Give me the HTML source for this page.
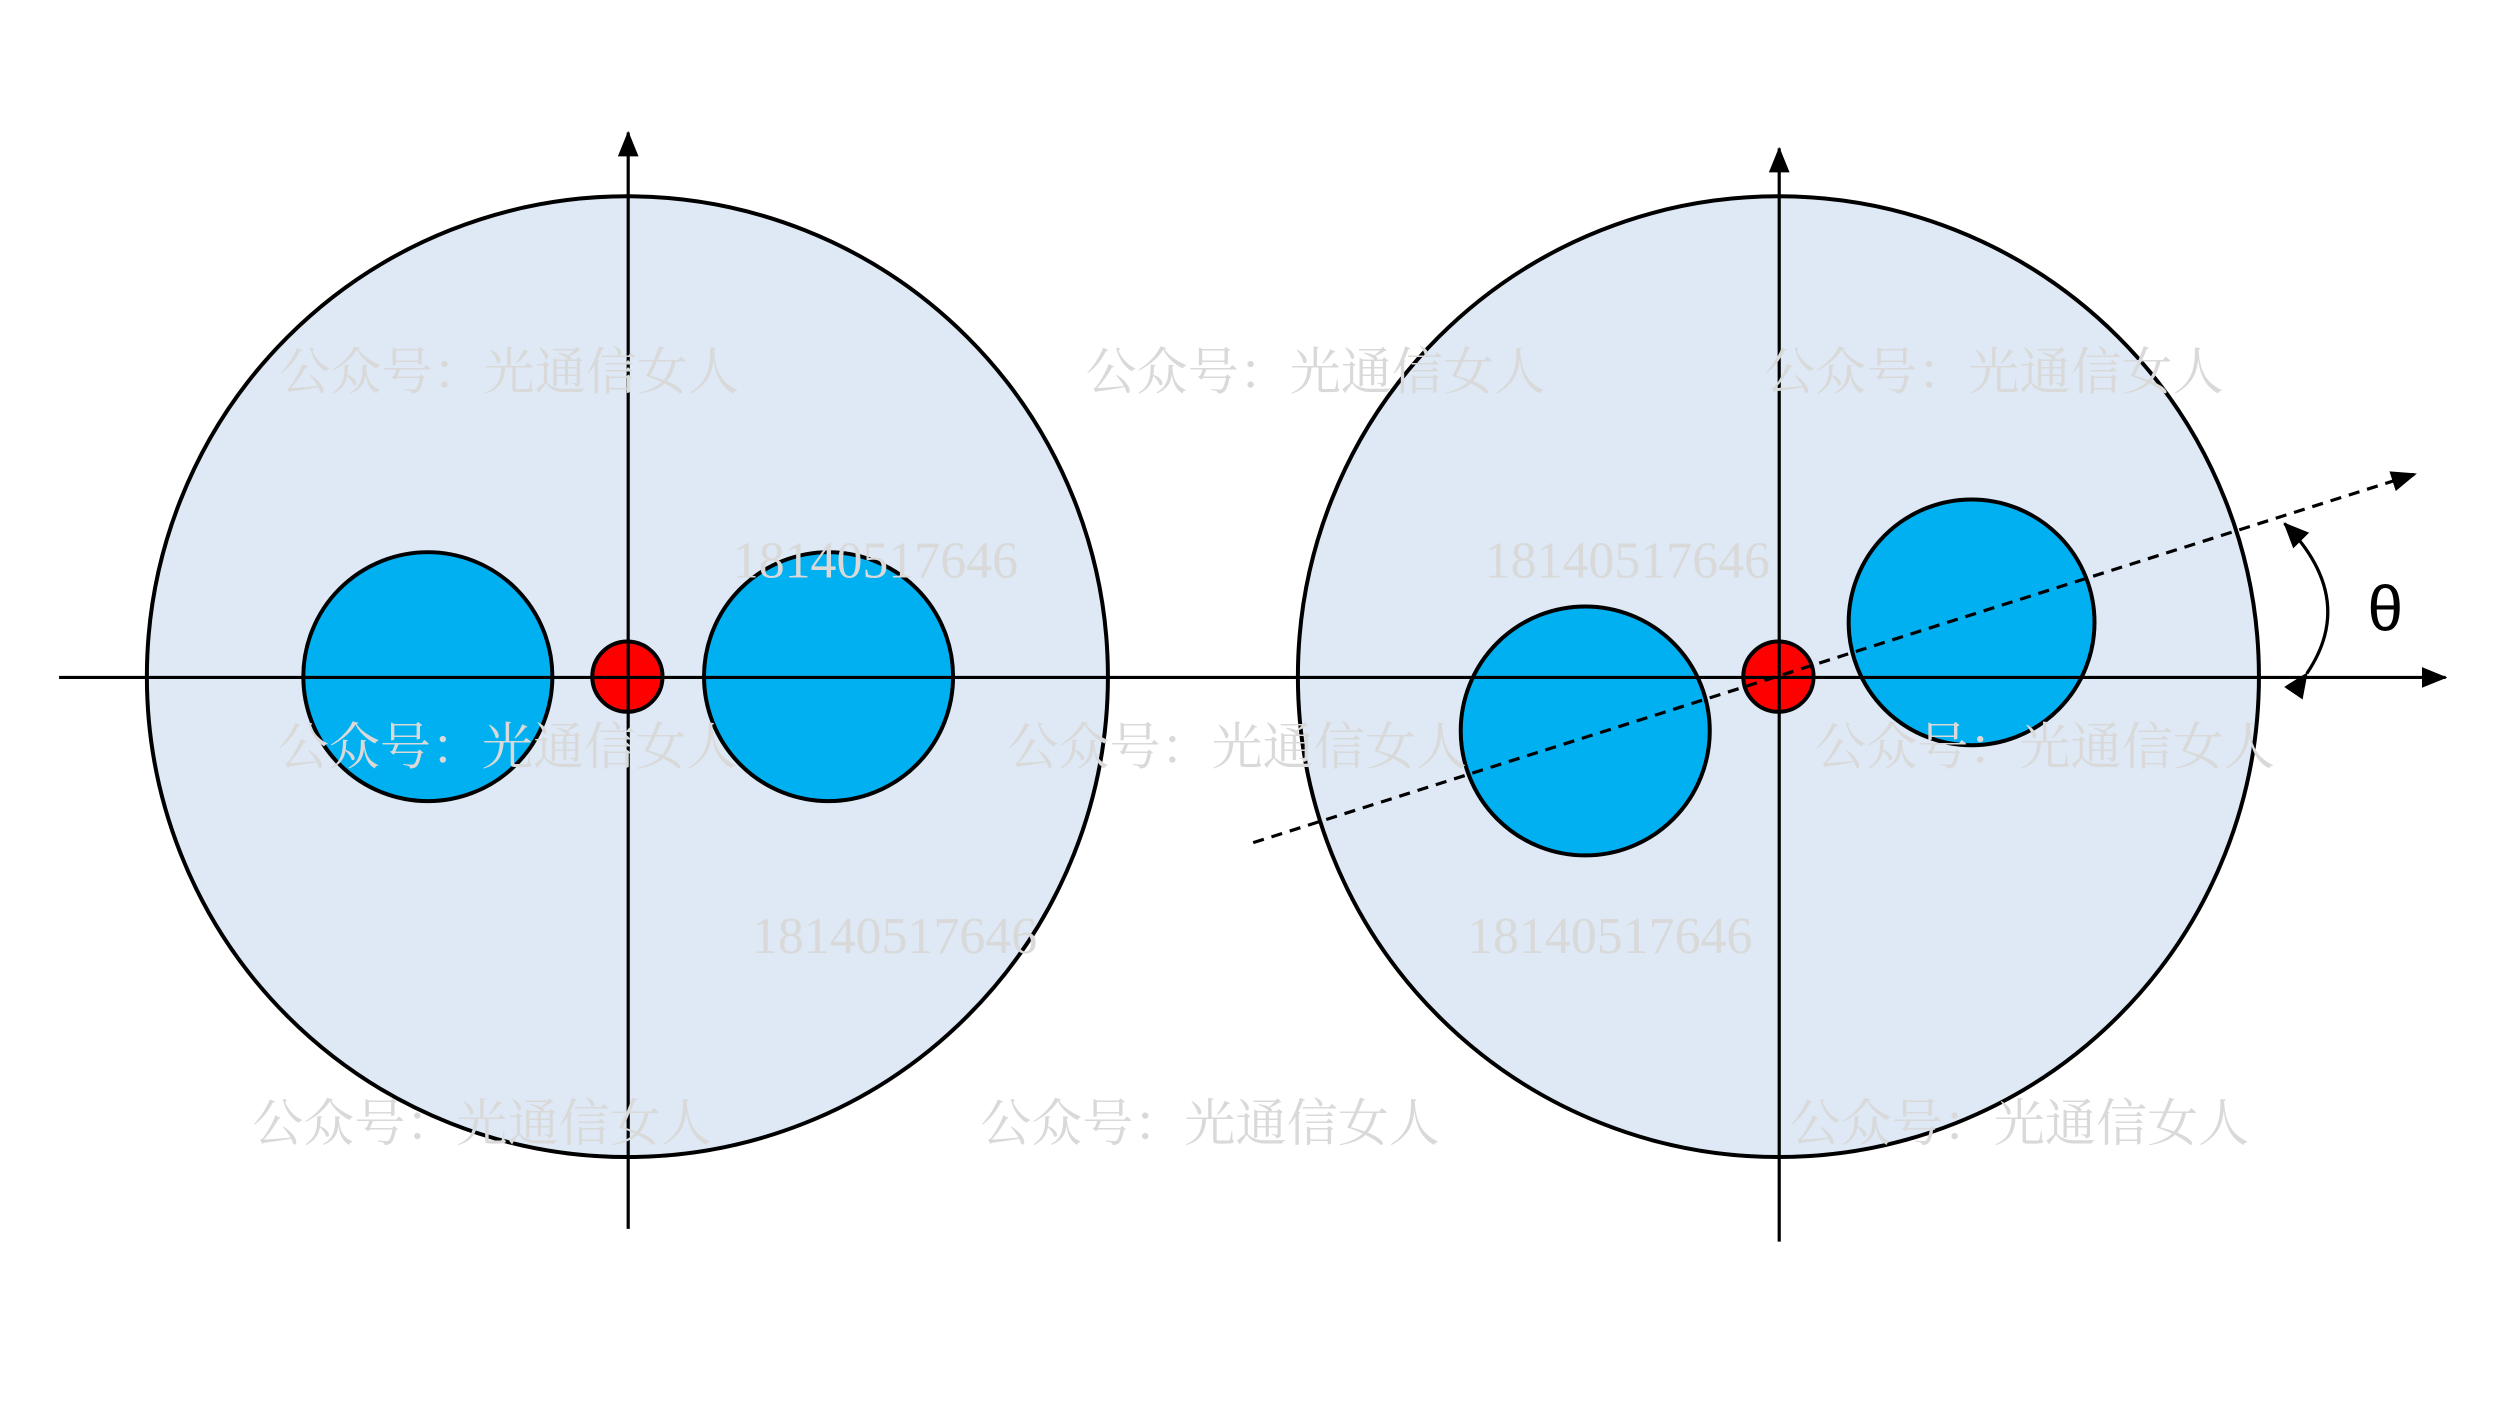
<!DOCTYPE html>
<html><head><meta charset="utf-8"><style>
html,body{margin:0;padding:0;background:#fff;}
svg{display:block;}
.wm{font-family:"Liberation Serif","Noto Serif CJK SC",serif;font-size:32px;fill:#d9d9d9;}
.num{font-family:"Liberation Serif",serif;font-size:32.5px;fill:#d9d9d9;}
</style></head><body>
<svg width="2500" height="1406" viewBox="0 0 1566 881" preserveAspectRatio="none" xmlns="http://www.w3.org/2000/svg">
<defs>
<marker id="ar" markerWidth="16" markerHeight="14" refX="15" refY="7" orient="auto" markerUnits="userSpaceOnUse" viewBox="0 0 16 14">
<path d="M0,0 L16,7 L0,14 z" fill="#000"/></marker>
<marker id="ar2" markerWidth="16" markerHeight="13" refX="15" refY="6.5" orient="auto" markerUnits="userSpaceOnUse" viewBox="0 0 16 13">
<path d="M0,0 L16,6.5 L0,13 z" fill="#000"/></marker>
</defs>
<g stroke="#000" stroke-width="2.5">
<circle cx="393" cy="424" r="301" fill="#dee9f5"/>
<circle cx="1114" cy="424" r="301" fill="#dee9f5"/>
<circle cx="268" cy="424" r="78" fill="#00b0f0"/>
<circle cx="519" cy="424" r="78" fill="#00b0f0"/>
<circle cx="993" cy="458" r="78" fill="#00b0f0"/>
<circle cx="1235" cy="390" r="77" fill="#00b0f0"/>
<circle cx="393" cy="424" r="22" fill="#ff0000"/>
<circle cx="1114" cy="424" r="22" fill="#ff0000"/>
</g>
<g stroke="#000" stroke-width="2" fill="none">
<line x1="37" y1="424.5" x2="1532" y2="424.5" marker-end="url(#ar2)"/>
<line x1="393.5" y1="770" x2="393.5" y2="83" marker-end="url(#ar2)"/>
<line x1="1114.5" y1="778" x2="1114.5" y2="93" marker-end="url(#ar2)"/>
<line x1="785" y1="528" x2="1513" y2="297" stroke-dasharray="7,5" marker-end="url(#ar2)"/>
<path d="M1445,422 Q1477,375 1431,328" marker-start="url(#ar)" marker-end="url(#ar)"/>
</g>
<text x="1483" y="395" font-family="Liberation Sans,sans-serif" font-size="40">θ</text>
<g class="wm">
<text x="175" y="244">公众号：光通信女人</text>
<text x="680" y="244">公众号：光通信女人</text>
<text x="1105" y="244">公众号：光通信女人</text>
<text x="174" y="479">公众号：光通信女人</text>
<text x="631" y="479">公众号：光通信女人</text>
<text x="1137" y="479">公众号：光通信女人</text>
<text x="158" y="715">公众号：光通信女人</text>
<text x="614" y="715">公众号：光通信女人</text>
<text x="1121" y="715">公众号：光通信女人</text>
</g>
<g class="num">
<text x="459" y="362">18140517646</text>
<text x="930" y="362">18140517646</text>
<text x="471" y="597">18140517646</text>
<text x="919" y="597">18140517646</text>
</g>
</svg>
</body></html>
